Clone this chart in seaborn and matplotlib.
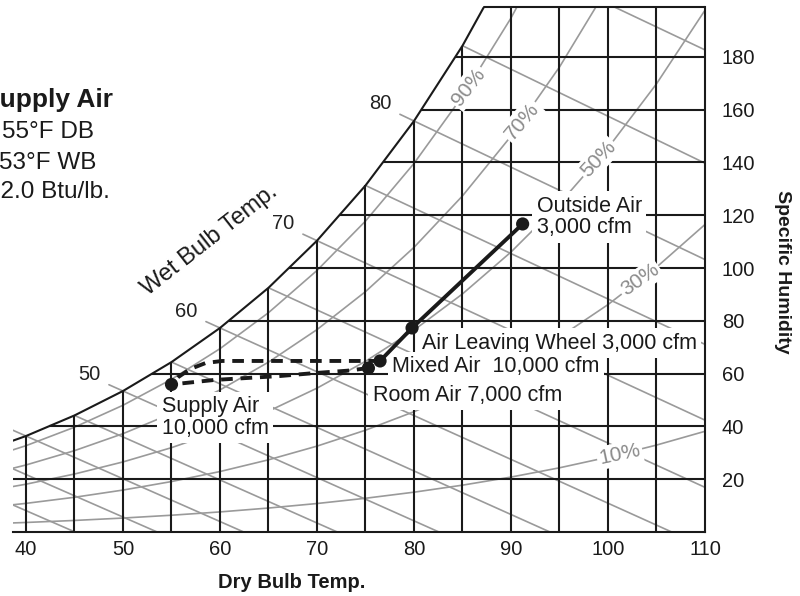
import matplotlib
matplotlib.use('Agg')
import matplotlib.pyplot as plt
import numpy as np
import pandas as pd
import seaborn as sns

# saturation vapour pressure (psia) from steam tables, every 5 F
SAT_TEMPS = [30, 35, 40, 45, 50, 55, 60, 65, 70, 75, 80, 85, 90, 95, 100, 105, 110]
SAT_PSIA = [0.08086, 0.09998, 0.12173, 0.14756, 0.17813, 0.21413, 0.25639, 0.30579,
            0.36334, 0.43016, 0.50745, 0.59659, 0.69904, 0.81643, 0.95051, 1.10323, 1.27665]
P_ATM = 14.696

RH_LEVELS = [0.1, 0.3, 0.5, 0.7, 0.9]
RH_LABELS = ['10%', '30%', '50%', '70%', '90%']
RH_LABEL_DB = [101.2, 103.3, 99.0, 91.1, 85.6]
RH_LABEL_ROT = [12, 35, 47, 50, 52]

# wet bulb lines and their slope (grains per F)
WB_TEMPS = [30, 35, 40, 45, 50, 55, 60, 65, 70, 75, 80, 85, 90]
WB_SLOPES = [1.60, 1.61, 1.62, 1.63, 1.64, 1.65, 1.66, 1.68, 1.70, 1.72, 1.75, 1.78, 1.74]
WB_EXTENDED = [40, 50, 60, 70, 80]
WB_LABELED = [50, 60, 70, 80]

DB_GRID = [40, 45, 50, 55, 60, 65, 70, 75, 80, 85, 90, 95, 100, 105]
W_GRID = [20, 40, 60, 80, 100, 120, 140, 160, 180]

# process states (dry bulb F, grains/lb)
STATE_TEXT = ['Outside Air\n3,000 cfm', 'Air Leaving Wheel 3,000 cfm',
              'Mixed Air  10,000 cfm', 'Room Air 7,000 cfm', 'Supply Air\n10,000 cfm']
STATE_DB = [91.2, 79.8, 76.5, 75.3, 55.0]
STATE_W = [116.7, 77.3, 64.8, 62.1, 55.9]
STATE_OFFSET = [(10, 5), (7, -11), (8.5, -4.3), (3, -19.5), (-7, -24)]

WHEEL_DB = [91.2, 79.8, 76.5]
WHEEL_W = [116.7, 77.3, 64.8]
COIL_DB = [76.5, 60.2, 58.5, 56.9, 55.7, 55.0]
COIL_W = [64.8, 64.8, 64.0, 61.7, 58.7, 55.9]
ROOM_DB = [75.3, 73.1, 69.7, 66.2, 59.4, 55.0]
ROOM_W = [62.1, 61.1, 60.2, 59.1, 57.6, 55.9]

GRAY = '#9a9a9a'
X_MIN, X_MAX = 38.66, 110
Y_TOP = 198.9


def grains(phi):
    pv = phi * np.array(SAT_PSIA)
    return 0.62198 * pv / (P_ATM - pv) * 7000


sns.set_theme(style='white')
plt.rcParams['font.family'] = ['Liberation Sans', 'DejaVu Sans']

fig = plt.figure(figsize=(8, 5.96), dpi=100)
ax = fig.add_axes([13 / 800, 64 / 596, 692 / 800, 525 / 596])
ax.set_xlim(X_MIN, X_MAX)
ax.set_ylim(0, Y_TOP)

sat_w = grains(1.0)


def t_sat(w):
    return np.interp(w, sat_w, SAT_TEMPS)


def w_sat(t):
    return np.interp(t, SAT_TEMPS, sat_w)


# relative humidity curves
rh_df = pd.concat([pd.DataFrame({'T': SAT_TEMPS, 'W': grains(p), 'rh': lab})
                   for p, lab in zip(RH_LEVELS, RH_LABELS)])
sns.lineplot(data=rh_df, x='T', y='W', units='rh', estimator=None, sort=False,
             color=GRAY, lw=1.2, ax=ax, zorder=1)

# wet bulb lines
for t, k in zip(WB_TEMPS, WB_SLOPES):
    ws = w_sat(t)
    t0 = t - 1.45 if t in WB_EXTENDED else t
    ax.plot([t0, t + ws / k], [ws + (t - t0) * k, 0], color=GRAY, lw=1.2, zorder=1)
    if t in WB_LABELED:
        ax.annotate(str(t), xy=(t0, ws + (t - t0) * k), xytext=(-14, 7.5),
                    textcoords='offset points', ha='center', va='center',
                    fontsize=14.5, color='#222222')

# black grid bounded by the saturation curve
ax.vlines(DB_GRID, 0, np.minimum(w_sat(DB_GRID), Y_TOP), color='#1a1a1a', lw=1.5, zorder=2)
ax.hlines(W_GRID, t_sat(W_GRID), X_MAX, color='#1a1a1a', lw=1.5, zorder=2)
ax.plot(SAT_TEMPS, sat_w, color='#1a1a1a', lw=1.5, zorder=3)
ax.plot([t_sat(Y_TOP), X_MAX], [Y_TOP, Y_TOP], color='#1a1a1a', lw=1.5,
        clip_on=False, zorder=3)

for p, lab, t, rot in zip(RH_LEVELS, RH_LABELS, RH_LABEL_DB, RH_LABEL_ROT):
    w = np.interp(t, SAT_TEMPS, grains(p))
    ax.text(t, w, lab, rotation=rot, rotation_mode='anchor', ha='center', va='center',
            fontsize=15, color='#8a8a8a', zorder=4,
            bbox=dict(boxstyle='square,pad=0.1', fc='white', ec='none'))

# process lines
ax.plot(COIL_DB, COIL_W, color='#1a1a1a', lw=2.8, ls=(0, (3, 2)), zorder=6)
ax.plot(ROOM_DB, ROOM_W, color='#1a1a1a', lw=2.8, ls=(0, (3, 2)), zorder=6)
sns.lineplot(x=WHEEL_DB, y=WHEEL_W, sort=False, color='#1a1a1a', lw=2.8, ax=ax, zorder=6)
sns.scatterplot(x=STATE_DB, y=STATE_W, color='#1a1a1a', s=90, edgecolor='none',
                ax=ax, zorder=7)

for txt, t, w, off in zip(STATE_TEXT, STATE_DB, STATE_W, STATE_OFFSET):
    ax.annotate(txt, xy=(t, w), xytext=off, textcoords='offset points',
                ha='left', va='center', fontsize=15.5, color='#1a1a1a',
                linespacing=1.05, zorder=5,
                bbox=dict(boxstyle='square,pad=0.2', fc='white', ec='none'))

# axes styling
for side in ['left', 'top']:
    ax.spines[side].set_visible(False)
for side in ['bottom', 'right']:
    ax.spines[side].set_color('#1a1a1a')
    ax.spines[side].set_linewidth(1.5)
ax.set_xticks(range(40, 111, 10))
ax.yaxis.tick_right()
ax.set_yticks(W_GRID)
ax.tick_params(axis='x', length=0, labelsize=14.5, pad=6, colors='#1a1a1a')
ax.tick_params(axis='y', length=0, labelsize=14.5, pad=12, colors='#1a1a1a')
ax.set_xlabel('')
ax.set_ylabel('')

fig.text(292 / 800, 1 - 583 / 596, 'Dry Bulb Temp.', ha='center', va='center',
         fontsize=14.5, fontweight='bold', color='#1a1a1a')
fig.text(783 / 800, 1 - 272 / 596, 'Specific Humidity', ha='center', va='center',
         rotation=-90, fontsize=14, fontweight='bold', color='#1a1a1a')
fig.text(210 / 800, 1 - 240 / 596, 'Wet Bulb Temp.', ha='center', va='center',
         rotation=38, fontsize=17, color='#1a1a1a')

# note block, partly cut off by the left edge as in the source
block = [('Supply Air', 'bold', 19, 100), ('55°F DB', 'normal', 17.5, 132),
         ('53°F WB', 'normal', 17.5, 163), ('22.0 Btu/lb.', 'normal', 17.5, 192)]
for txt, wt, fs, y in block:
    fig.text(48 / 800, 1 - y / 596, txt, ha='center', va='center', fontsize=fs,
             fontweight=wt, color='#1a1a1a')

fig.savefig('out.png', dpi=100)
